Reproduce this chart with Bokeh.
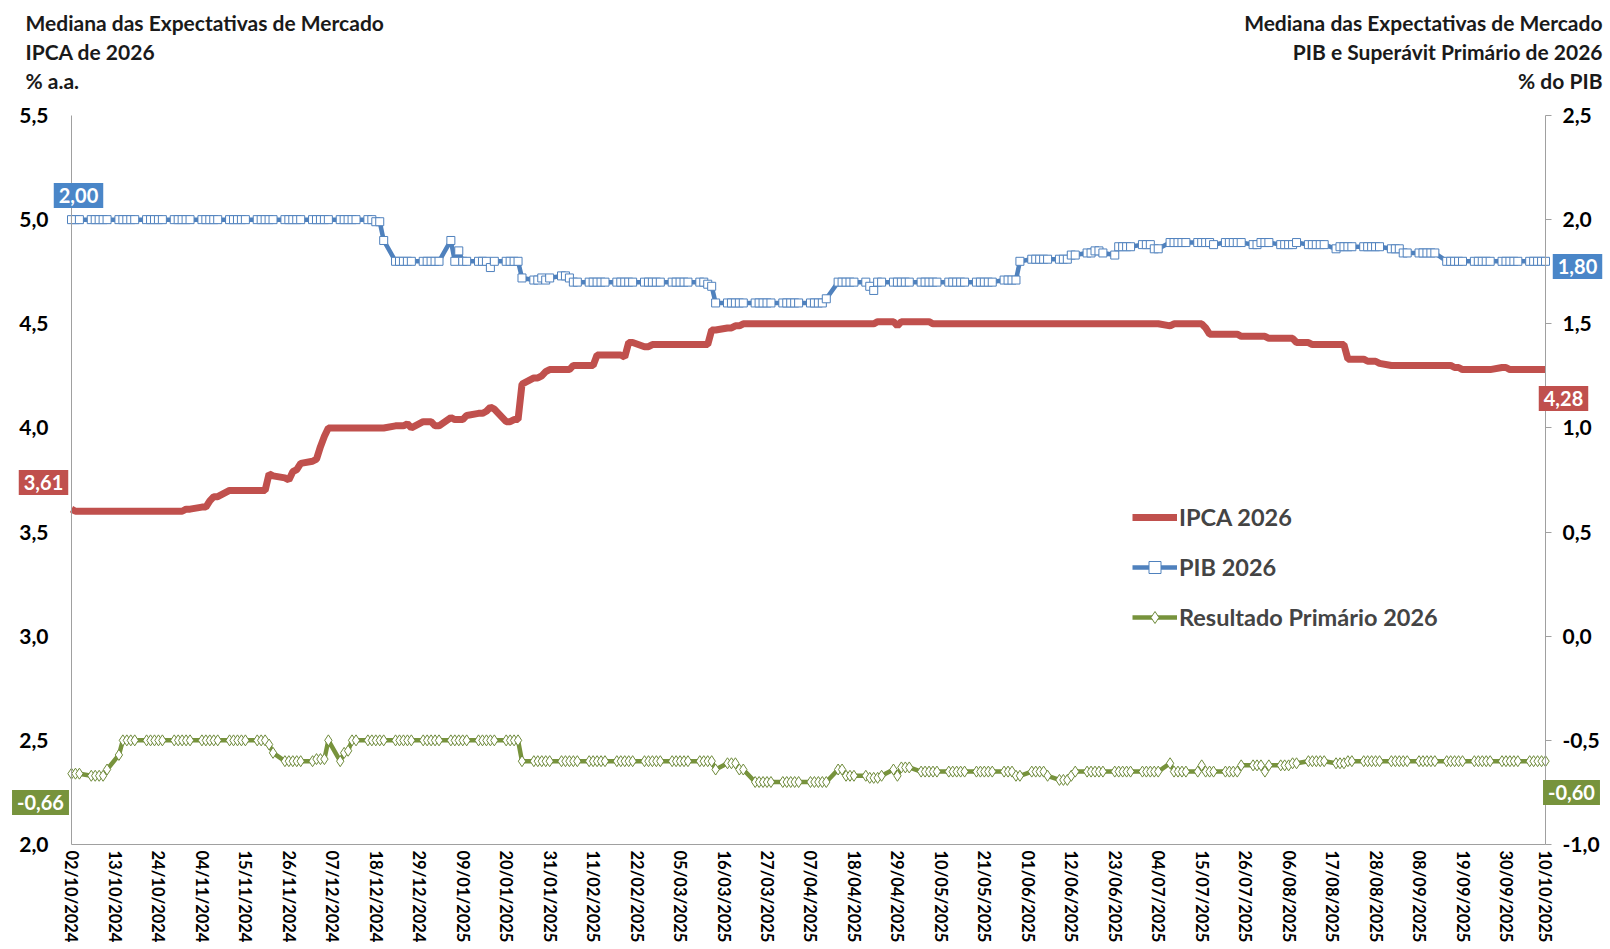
import pandas as pd

from bokeh.plotting import figure
from bokeh.models import (Range1d, LinearAxis, DatetimeAxis, FixedTicker, CustomJSTickFormatter,
                          Label, Legend, LegendItem)
from bokeh.embed import file_html
from bokeh.resources import INLINE

# Focus survey medians: value holds from each date until the next one
first_day = "2024-10-02"
last_day = "2025-10-10"

ipca_dates = ["2024-10-02", "2024-10-03", "2024-10-31", "2024-11-04", "2024-11-06", "2024-11-07",
              "2024-11-11", "2024-11-21", "2024-11-22", "2024-11-25", "2024-11-26", "2024-11-27",
              "2024-11-28", "2024-11-29", "2024-12-02", "2024-12-03", "2024-12-04", "2024-12-05",
              "2024-12-06", "2024-12-23", "2024-12-26", "2024-12-27", "2024-12-30", "2025-01-02",
              "2025-01-06", "2025-01-07", "2025-01-10", "2025-01-13", "2025-01-15", "2025-01-16",
              "2025-01-17", "2025-01-20", "2025-01-22", "2025-01-24", "2025-01-27", "2025-01-29",
              "2025-01-30", "2025-01-31", "2025-02-06", "2025-02-12", "2025-02-19", "2025-02-20",
              "2025-02-24", "2025-02-26", "2025-03-13", "2025-03-17", "2025-03-19", "2025-03-21",
              "2025-04-24", "2025-04-29", "2025-04-30", "2025-05-08", "2025-07-07", "2025-07-08",
              "2025-07-16", "2025-07-17", "2025-07-25", "2025-08-01", "2025-08-08", "2025-08-12",
              "2025-08-21", "2025-08-26", "2025-08-29", "2025-09-01", "2025-09-17", "2025-09-19",
              "2025-09-29", "2025-10-01"]
ipca_vals = [3.61, 3.60, 3.61, 3.62, 3.65, 3.67,
             3.70, 3.78, 3.77, 3.76, 3.75, 3.79,
             3.80, 3.83, 3.84, 3.85, 3.91, 3.96,
             4.00, 4.01, 4.02, 4.00, 4.03, 4.01,
             4.05, 4.04, 4.06, 4.07, 4.08, 4.10,
             4.09, 4.03, 4.04, 4.21, 4.24, 4.25,
             4.27, 4.28, 4.30, 4.35, 4.34, 4.41,
             4.39, 4.40, 4.47, 4.48, 4.49, 4.50,
             4.51, 4.49, 4.51, 4.50, 4.49, 4.50,
             4.48, 4.45, 4.44, 4.43, 4.41, 4.40,
             4.33, 4.32, 4.31, 4.30, 4.29, 4.28,
             4.29, 4.28]

pib_dates = ["2024-10-02", "2024-12-18", "2024-12-20", "2024-12-23", "2025-01-06", "2025-01-07",
             "2025-01-08", "2025-01-09", "2025-01-16", "2025-01-17", "2025-01-24", "2025-01-27",
             "2025-01-29", "2025-01-30", "2025-01-31", "2025-02-03", "2025-02-05", "2025-02-06",
             "2025-03-12", "2025-03-13", "2025-03-14", "2025-04-11", "2025-04-14", "2025-04-22",
             "2025-04-23", "2025-04-24", "2025-05-26", "2025-05-30", "2025-06-02", "2025-06-12",
             "2025-06-16", "2025-06-18", "2025-06-20", "2025-06-23", "2025-06-24", "2025-06-30",
             "2025-07-03", "2025-07-07", "2025-07-18", "2025-07-21", "2025-07-28", "2025-07-30",
             "2025-08-04", "2025-08-08", "2025-08-11", "2025-08-18", "2025-08-19", "2025-09-01",
             "2025-09-04", "2025-09-15"]
pib_vals = [2.00, 1.99, 1.90, 1.80, 1.90, 1.80,
            1.85, 1.80, 1.77, 1.80, 1.72, 1.71,
            1.72, 1.71, 1.72, 1.73, 1.72, 1.70,
            1.69, 1.68, 1.60, 1.62, 1.70, 1.68,
            1.66, 1.70, 1.71, 1.80, 1.81, 1.83,
            1.84, 1.85, 1.84, 1.83, 1.87, 1.88,
            1.86, 1.89, 1.88, 1.89, 1.88, 1.89,
            1.88, 1.89, 1.88, 1.86, 1.87, 1.86,
            1.84, 1.80]

prim_dates = ["2024-10-02", "2024-10-07", "2024-10-11", "2024-10-14", "2024-10-15", "2024-11-21",
              "2024-11-22", "2024-11-25", "2024-12-03", "2024-12-06", "2024-12-09", "2024-12-10",
              "2024-12-11", "2024-12-12", "2025-01-24", "2025-03-14", "2025-03-17", "2025-03-20",
              "2025-03-24", "2025-04-14", "2025-04-16", "2025-04-22", "2025-04-25", "2025-04-28",
              "2025-04-29", "2025-04-30", "2025-05-05", "2025-05-29", "2025-06-02", "2025-06-06",
              "2025-06-09", "2025-06-12", "2025-06-13", "2025-07-07", "2025-07-08", "2025-07-15",
              "2025-07-16", "2025-07-25", "2025-07-31", "2025-08-01", "2025-08-07", "2025-08-11",
              "2025-08-18", "2025-08-21"]
prim_vals = [-0.66, -0.67, -0.64, -0.57, -0.50, -0.52,
             -0.56, -0.60, -0.59, -0.50, -0.60, -0.56,
             -0.55, -0.50, -0.60, -0.64, -0.61, -0.64,
             -0.70, -0.64, -0.67, -0.68, -0.67, -0.64,
             -0.67, -0.63, -0.65, -0.67, -0.65, -0.67,
             -0.69, -0.67, -0.65, -0.61, -0.65, -0.62,
             -0.65, -0.62, -0.65, -0.62, -0.61, -0.60,
             -0.61, -0.60]

left_ticks = [2.0, 2.5, 3.0, 3.5, 4.0, 4.5, 5.0, 5.5]
right_ticks = [-1.0, -0.5, 0.0, 0.5, 1.0, 1.5, 2.0, 2.5]
tick_every_days = 11

RED = "#C0504D"
BLUE = "#4F81BD"
BOX_BLUE = "#4A86C8"
GREEN = "#77933C"
AXIS = "#A0A0A0"
FONT = "Lato"

# canvas and plotting-area geometry (pixels); the frame covers the whole canvas so
# that the headers and value boxes around the axes are not clipped
W, H = 1604, 947
AREA_L, AREA_R, AREA_T, AREA_B = 71, 1545, 115, 844

# business days of the survey
days = pd.bdate_range(first_day, last_day)


def expand(dates, vals):
    s = pd.Series(vals, index=pd.to_datetime(dates))
    return s.reindex(days, method="ffill").to_numpy()


ipca = expand(ipca_dates, ipca_vals)
pib = expand(pib_dates, pib_vals)
prim = expand(prim_dates, prim_vals)

t0, t1 = pd.Timestamp(first_day), pd.Timestamp(last_day)
ms0, ms1 = t0.value // 10**6, t1.value // 10**6

tick_days = list(pd.date_range(first_day, last_day, freq=f"{tick_every_days}D"))
tick_days.append(t1)
tick_ms = [t.value // 10**6 for t in tick_days]

px_per_day = (AREA_R - AREA_L) / (t1 - t0).days
lo, hi = left_ticks[0], left_ticks[-1]
px_per_unit = (AREA_B - AREA_T) / (hi - lo)
x_range = Range1d(t0 - pd.Timedelta(days=AREA_L / px_per_day),
                  t1 + pd.Timedelta(days=(W - AREA_R) / px_per_day))
y_top = hi + AREA_T / px_per_unit
y_bot = lo - (H - AREA_B) / px_per_unit
shift = right_ticks[0] - lo

p = figure(x_range=x_range, y_range=Range1d(y_bot, y_top),
           width=W, height=H, x_axis_location=None, y_axis_location=None,
           min_border=0, min_border_left=0, min_border_right=0, min_border_top=0, min_border_bottom=0,
           output_backend="svg", toolbar_location=None)
p.extra_y_ranges = {"right": Range1d(y_bot + shift, y_top + shift)}
p.outline_line_color = None
p.grid.visible = False

comma_fmt = CustomJSTickFormatter(code="return tick.toFixed(1).replace('.', ',');")
date_fmt = CustomJSTickFormatter(code="""
const d = new Date(tick);
const dd = String(d.getUTCDate()).padStart(2, '0');
const mm = String(d.getUTCMonth() + 1).padStart(2, '0');
return dd + '/' + mm + '/' + d.getUTCFullYear();
""")

# left axis
yl = LinearAxis(fixed_location=ms0, bounds=(lo, hi), ticker=FixedTicker(ticks=left_ticks),
                formatter=comma_fmt)
yl.major_tick_line_color = None
yl.major_tick_out = 0
yl.major_label_standoff = 23
p.add_layout(yl, "left")

# right axis
yr = LinearAxis(y_range_name="right", fixed_location=ms1, bounds=(right_ticks[0], right_ticks[-1]),
                ticker=FixedTicker(ticks=right_ticks), formatter=comma_fmt)
yr.major_tick_line_color = AXIS
yr.major_tick_out = 6
yr.major_tick_in = 0
yr.major_label_standoff = 11
p.add_layout(yr, "right")

for ax in (yl, yr):
    ax.axis_line_color = AXIS
    ax.minor_tick_line_color = None
    ax.major_label_text_font = FONT
    ax.major_label_text_font_style = "bold"
    ax.major_label_text_font_size = "21px"
    ax.major_label_text_color = "black"

# bottom axis
xa = DatetimeAxis(fixed_location=lo, bounds=(ms0, ms1), ticker=FixedTicker(ticks=tick_ms),
                  formatter=date_fmt)
xa.major_label_orientation = -1.5708
xa.axis_line_color = AXIS
xa.major_tick_line_color = None
xa.minor_tick_line_color = None
xa.major_tick_out = 0
xa.major_label_standoff = 6
xa.major_label_text_font = FONT
xa.major_label_text_font_style = "bold"
xa.major_label_text_font_size = "16.5px"
xa.major_label_text_color = "black"
p.add_layout(xa, "below")

# series
r_ipca = p.line(days, ipca, color=RED, line_width=7)
r_pib = p.line(days, pib, color=BLUE, line_width=4.5, y_range_name="right")
r_pib_m = p.scatter(days, pib, marker="square", size=8, fill_color="white",
                    line_color=BLUE, line_width=1, y_range_name="right")
r_prim = p.line(days, prim, color=GREEN, line_width=4.5, y_range_name="right")
r_prim_m = p.scatter(days, prim, marker="diamond", size=11, fill_color="white",
                     line_color="#6E8A3A", line_width=1, y_range_name="right")

legend = Legend(items=[LegendItem(label="IPCA 2026", renderers=[r_ipca]),
                       LegendItem(label="PIB 2026", renderers=[r_pib, r_pib_m]),
                       LegendItem(label="Resultado Primário 2026", renderers=[r_prim, r_prim_m])],
                location=(1132, H - 632), glyph_width=45, glyph_height=30, label_height=30,
                spacing=20, padding=0, margin=0, label_standoff=2,
                border_line_color=None, background_fill_alpha=0,
                label_text_font=FONT, label_text_font_style="bold", label_text_font_size="23.5px")
p.add_layout(legend)


def fmt(v):
    return f"{v:.2f}".replace(".", ",")


# value boxes at both ends (centre in canvas pixels, from the top-left)
boxes = [(fmt(pib[0]), BOX_BLUE, 78, 195), (fmt(ipca[0]), RED, 43, 482), (fmt(prim[0]), GREEN, 40, 802),
         (fmt(pib[-1]), BOX_BLUE, 1577, 266), (fmt(ipca[-1]), RED, 1563, 398), (fmt(prim[-1]), GREEN, 1571, 792)]
for text, col, cx, cy in boxes:
    p.add_layout(Label(x=cx, y=H - cy, x_units="screen", y_units="screen", text=text,
                       text_align="center", text_baseline="middle", text_color="white",
                       text_font=FONT, text_font_style="bold", text_font_size="20px",
                       background_fill_color=col, padding=5))

# headers
left_head = ["Mediana das Expectativas de Mercado", "IPCA de 2026", "% a.a."]
right_head = ["Mediana das Expectativas de Mercado", "PIB e Superávit Primário de 2026", "% do PIB"]
for i, (lt, rt) in enumerate(zip(left_head, right_head)):
    cy = 22 + i * 29
    p.add_layout(Label(x=25, y=H - cy, x_units="screen", y_units="screen", text=lt,
                       text_align="left", text_baseline="middle", text_font=FONT,
                       text_font_style="bold", text_font_size="21px", text_color="#1a1a1a"))
    p.add_layout(Label(x=1602, y=H - cy, x_units="screen", y_units="screen", text=rt,
                       text_align="right", text_baseline="middle", text_font=FONT,
                       text_font_style="bold", text_font_size="21px", text_color="#1a1a1a"))

open("out.html", "w").write(file_html(p, INLINE))
